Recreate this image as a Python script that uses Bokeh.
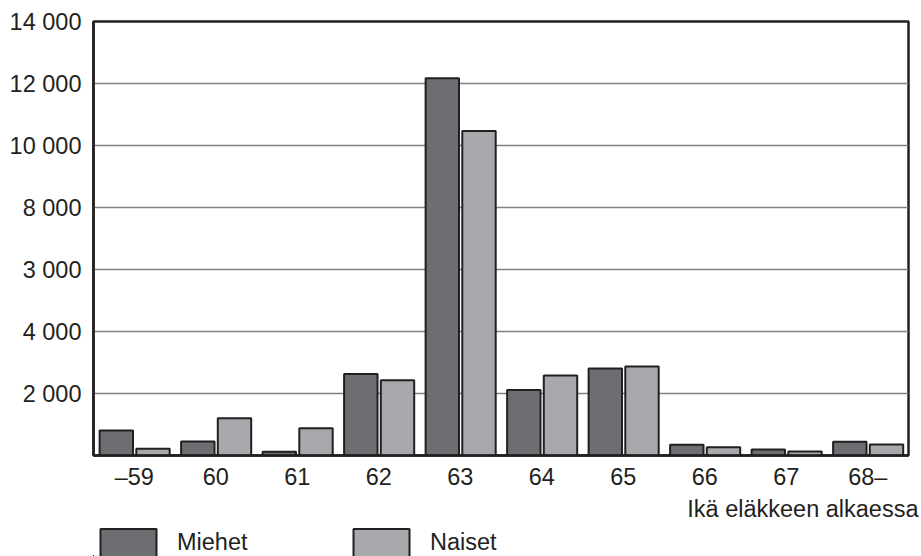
from bokeh.plotting import figure
from bokeh.models import (ColumnDataSource, FactorRange, Range1d, FixedTicker,
                          Legend, LegendItem, Title)
from bokeh.layouts import column
from bokeh.transform import dodge
from bokeh.embed import file_html
from bokeh.resources import INLINE

# ---- data ----
ages = ["–59", "60", "61", "62", "63", "64", "65", "66", "67", "68–"]
miehet = [810, 450, 120, 2630, 12170, 2110, 2810, 345, 195, 440]
naiset = [215, 1205, 880, 2430, 10470, 2580, 2870, 270, 130, 355]
y_ticks = [0, 2000, 4000, 6000, 8000, 10000, 12000, 14000]
y_tick_labels = ["", "2 000", "4 000", "3 000", "8 000", "10 000", "12 000", "14 000"]
series_names = ["Miehet", "Naiset"]
x_title = "Ikä eläkkeen alkaessa"

C_M = "#6d6e71"
C_N = "#a7a9ac"
INK = "#231f20"
FONT = "Liberation Sans"
FS = "23.5px"

src = ColumnDataSource(dict(age=ages, m=miehet, n=naiset))

p = figure(x_range=FactorRange(*ages, range_padding=0),
           y_range=Range1d(0, 14000),
           width=921, height=523,
           min_border_left=93, min_border_right=13,
           min_border_top=21, min_border_bottom=67,
           output_backend="svg", toolbar_location=None)

rm = p.vbar(x=dodge("age", -0.22, range=p.x_range), top="m", width=0.41,
            source=src, fill_color=C_M, line_color=INK, line_width=2)
rn = p.vbar(x=dodge("age", 0.23, range=p.x_range), top="n", width=0.41,
            source=src, fill_color=C_N, line_color=INK, line_width=2)

p.outline_line_color = INK
p.outline_line_width = 2.5
p.xgrid.grid_line_color = None
p.ygrid.grid_line_color = "#808080"
p.ygrid.grid_line_width = 1.3
p.background_fill_color = "white"
p.border_fill_color = "white"

p.yaxis.ticker = FixedTicker(ticks=y_ticks)
p.yaxis.major_label_overrides = {t: l for t, l in zip(y_ticks, y_tick_labels)}
p.yaxis.major_label_standoff = 12

p.xaxis.major_label_standoff = 8

for ax in (p.xaxis, p.yaxis):
    ax.major_tick_line_color = None
    ax.major_tick_out = 0
    ax.major_tick_in = 0
    ax.minor_tick_line_color = None
    ax.minor_tick_out = 0
    ax.axis_line_color = INK
    ax.axis_line_width = 2.5
    ax.major_label_text_font = FONT
    ax.major_label_text_font_size = FS
    ax.major_label_text_color = INK

p.add_layout(Title(text=x_title, align="right", offset=-10, standoff=3,
                   text_font=FONT, text_font_size=FS, text_font_style="normal",
                   text_color=INK), "below")

# ---- legend strip below the chart ----
# its glyphs use the series values but lie far outside (below-left of) its own view
lg = figure(width=921, height=33,
            x_range=Range1d(100000, 100001), y_range=Range1d(100000, 100001),
            x_axis_type=None, y_axis_type=None,
            min_border=0, min_border_left=0, min_border_right=0,
            min_border_top=0, min_border_bottom=0,
            output_backend="svg", toolbar_location=None)
lg.outline_line_color = None
lg.background_fill_color = "white"
lg.border_fill_color = "white"
lm = lg.vbar(x="m", top="m", bottom="n", width=0.41, source=src,
             fill_color=C_M, line_color=INK, line_width=2)
ln = lg.vbar(x="n", top="n", bottom="m", width=0.41, source=src,
             fill_color=C_N, line_color=INK, line_width=2)

legend = Legend(items=[LegendItem(label=series_names[0], renderers=[lm]),
                       LegendItem(label=series_names[1], renderers=[ln])],
                location=(0, -3.5), orientation="horizontal",
                glyph_width=70, glyph_height=35, label_height=35,
                label_width=169, label_standoff=14, spacing=0,
                padding=0, margin=0,
                border_line_alpha=0, background_fill_alpha=0,
                label_text_font=FONT, label_text_font_size=FS,
                label_text_color=INK)
lg.add_layout(legend, "center")

layout = column(p, lg, spacing=0)
open("out.html", "w").write(file_html(layout, INLINE))
